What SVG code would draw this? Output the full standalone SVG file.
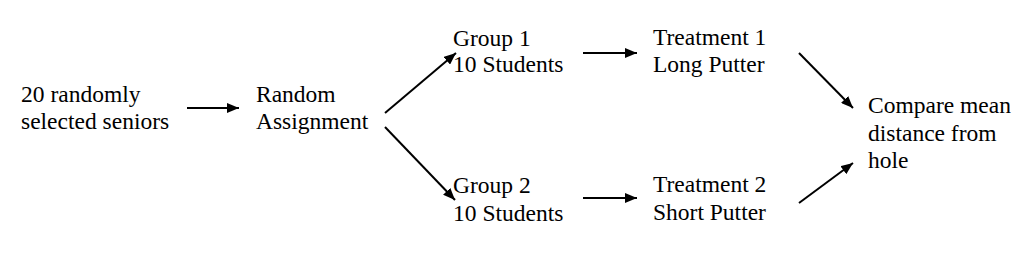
<svg xmlns="http://www.w3.org/2000/svg" width="1036" height="269" viewBox="0 0 1036 269">
<defs>
<style>
.c{stroke:#000;stroke-width:2;fill:none}
</style>
<marker id="ah" markerWidth="12" markerHeight="10" refX="12" refY="5" orient="auto" markerUnits="userSpaceOnUse">
<path d="M0,0 L12,5 L0,10 Z" fill="#000"/>
</marker>
</defs>
<rect width="1036" height="269" fill="#fff"/>
<g font-family="Times New Roman, serif" font-size="23.5" fill="#000">
<g id="seniors"><text x="21" y="102">20 randomly</text><text x="21" y="129">selected seniors</text></g>
<g id="random"><text x="256" y="102">Random</text><text x="256" y="129">Assignment</text></g>
<g id="group1"><text x="453" y="45.5">Group 1</text><text x="453" y="72">10 Students</text></g>
<g id="group2"><text x="453" y="193">Group 2</text><text x="453" y="220.5">10 Students</text></g>
<g id="treat1"><text x="653" y="45">Treatment 1</text><text x="653" y="72">Long Putter</text></g>
<g id="treat2"><text x="653" y="192">Treatment 2</text><text x="653" y="220">Short Putter</text></g>
<g id="compare"><text x="868" y="113">Compare mean</text><text x="868" y="140.5">distance from</text><text x="868" y="168">hole</text></g>
</g>
<g id="connectors" class="c">
<line class="c" x1="187" y1="108" x2="239" y2="108" marker-end="url(#ah)"/>
<line class="c" x1="385" y1="113" x2="456" y2="53" marker-end="url(#ah)"/>
<line class="c" x1="385" y1="127" x2="455" y2="200" marker-end="url(#ah)"/>
<line class="c" x1="583" y1="53" x2="637" y2="53" marker-end="url(#ah)"/>
<line class="c" x1="583" y1="198" x2="637" y2="198" marker-end="url(#ah)"/>
<line class="c" x1="799" y1="53" x2="853" y2="108" marker-end="url(#ah)"/>
<line class="c" x1="799" y1="203" x2="853" y2="163" marker-end="url(#ah)"/>
</g>
</svg>
